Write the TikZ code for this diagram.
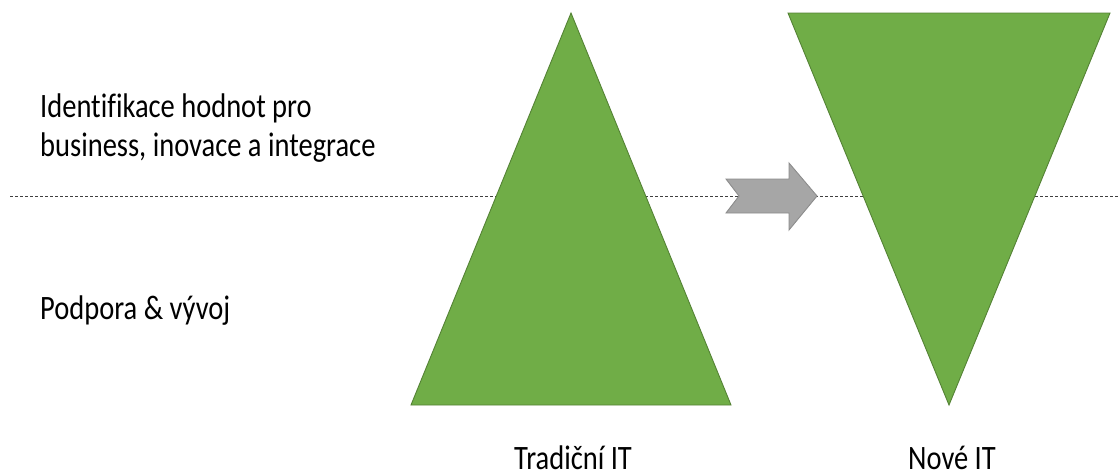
\documentclass[tikz,border=0pt]{standalone}
\usepackage{fontspec}
\usepackage{graphicx}
\setmainfont[Ligatures=NoCommon]{Carlito}
\definecolor{leafgreen}{HTML}{70AD47}
\definecolor{leafedge}{HTML}{548235}
\definecolor{arrowgray}{HTML}{A6A6A6}
\definecolor{arrowedge}{HTML}{8C8C8C}
% slightly tall lettering
\newcommand{\tallbox}[1]{\scalebox{1}[1.2]{#1}}
\begin{document}
\begin{tikzpicture}[x=1pt,y=-1pt,
  pyramid/.style={fill=leafgreen,draw=leafedge,line width=0.9pt,line join=miter},
  blockarrow/.style={fill=arrowgray,draw=arrowedge,line width=0.9pt},
  label/.style={font=\fontsize{28.5}{33.3}\selectfont,inner sep=0pt,text=black,anchor=base west}]
\useasboundingbox (0,0) rectangle (1118,474);
% level divider
\draw[black!75,line width=0.8pt,dash pattern=on 3pt off 2pt] (10,196) -- (1118,196);
% traditional pyramid and inverted pyramid
\draw[pyramid] (571,13) -- (731,405) -- (411,405) -- cycle;
\draw[pyramid] (788,13) -- (1110,13) -- (949,405) -- cycle;
% transition arrow
\draw[blockarrow] (726,179) -- (789,179) -- (789,163) -- (817,196) -- (789,230)
  -- (789,213) -- (726,213) -- (739,196) -- cycle;
% labels
\node[label] (upper) at (40,117)
  {\tallbox{\begin{tabular}[t]{@{}l@{}}Identifikace hodnot pro\\business, inovace a integrace\end{tabular}}};
\node[label] (lower) at (40,319) {\tallbox{Podpora \& vývoj}};
\node[label] (trad) at (514,469) {\tallbox{Tradiční IT}};
\node[label] (nove) at (908,469) {\tallbox{Nové IT}};
\end{tikzpicture}
\end{document}
